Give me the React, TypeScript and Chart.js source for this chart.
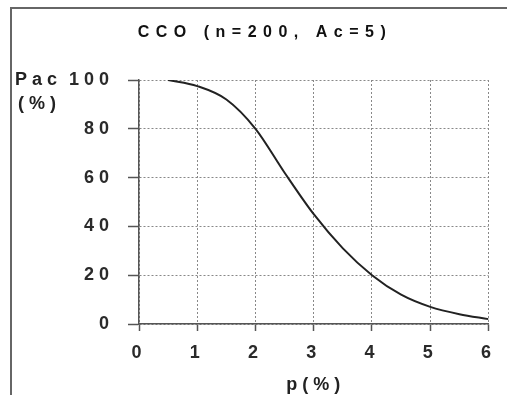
import React, { useEffect, useRef } from "react";
import { Chart, registerables } from "chart.js";

Chart.register(...registerables);

const chartTitle = "CCO (n=200, Ac=5)";
const yLabelTop = "Pac";
const yLabelBottom = "(%)";
const xLabel = "p(%)";
const pValues = [0.5, 1, 1.5, 2, 2.5, 3, 3.5, 4, 4.5, 5, 5.5, 6];
const pacValues = [100, 97.5, 92, 80, 62, 45, 31, 20, 12, 7, 4, 2];
const xMin = 0;
const xMax = 6;
const yMin = 0;
const yMax = 100;

const FONT = "'Liberation Sans', Arial, Helvetica, sans-serif";

const decorPlugin = {
  id: "decor",
  beforeLayout(chart: any) {
    chart.ctx.letterSpacing = "5px";
  },
  beforeDraw(chart: any) {
    const ctx = chart.ctx;
    ctx.save();
    ctx.strokeStyle = "#666";
    ctx.lineWidth = 2;
    ctx.beginPath();
    ctx.moveTo(11, 395);
    ctx.lineTo(11, 8);
    ctx.lineTo(507, 8);
    ctx.stroke();
    ctx.restore();
    ctx.letterSpacing = "5px";
  },
  afterDraw(chart: any) {
    const ctx = chart.ctx;
    const area = chart.chartArea;
    ctx.save();
    ctx.fillStyle = "#111";
    ctx.textBaseline = "middle";
    ctx.font = `bold 16px ${FONT}`;
    ctx.letterSpacing = "6.5px";
    ctx.textAlign = "center";
    ctx.fillText(chartTitle, 265, 33);

    ctx.font = `bold 18px ${FONT}`;
    ctx.letterSpacing = "5px";
    ctx.textAlign = "left";
    ctx.fillStyle = "#222";
    ctx.fillText(yLabelTop, 15, area.top);
    ctx.fillText(yLabelBottom, 18, area.top + 24);
    ctx.textAlign = "center";
    ctx.fillText(xLabel, (area.left + area.right) / 2 + 2, 385);
    ctx.restore();
  },
};

export default function App() {
  const canvasRef = useRef<HTMLCanvasElement | null>(null);

  useEffect(() => {
    const canvas = canvasRef.current;
    if (!canvas) return;
    const tickFont = { family: FONT, size: 18, weight: "bold" as const };
    const chart = new Chart(canvas, {
      type: "line",
      data: {
        datasets: [
          {
            data: pValues.map((p, i) => ({ x: p, y: pacValues[i] })),
            borderColor: "#222",
            borderWidth: 2,
            pointRadius: 0,
            cubicInterpolationMode: "monotone",
            fill: false,
          },
        ],
      },
      options: {
        responsive: false,
        animation: false,
        devicePixelRatio: 1,
        layout: { padding: { left: 0, top: 80, right: 18, bottom: 0 } },
        plugins: {
          legend: { display: false },
          tooltip: { enabled: false },
          title: { display: false },
        },
        scales: {
          x: {
            type: "linear",
            min: xMin,
            max: xMax,
            ticks: { stepSize: 1, padding: 11, color: "#2a2a2a", font: tickFont, maxRotation: 0 },
            grid: { color: "#888", lineWidth: 1, tickLength: 7, tickColor: "#555", tickWidth: 1.5 },
            border: { color: "#555", width: 1.5, dash: [2, 2] },
            afterFit(scale: any) {
              scale.height = 71;
            },
          },
          y: {
            type: "linear",
            min: yMin,
            max: yMax,
            ticks: { stepSize: 20, padding: 14, color: "#2a2a2a", font: tickFont },
            grid: { color: "#888", lineWidth: 1, tickLength: 11, tickColor: "#555", tickWidth: 1.5 },
            border: { color: "#555", width: 1.5, dash: [2, 2] },
            afterFit(scale: any) {
              scale.width = 139;
            },
          },
        },
      },
      plugins: [decorPlugin],
    });
    return () => chart.destroy();
  }, []);

  return (
    <div style={{ position: "absolute", left: 0, top: 0, width: 507, height: 395, background: "#fff" }}>
      <canvas ref={canvasRef} width={507} height={395} style={{ display: "block", width: 507, height: 395 }} />
    </div>
  );
}
